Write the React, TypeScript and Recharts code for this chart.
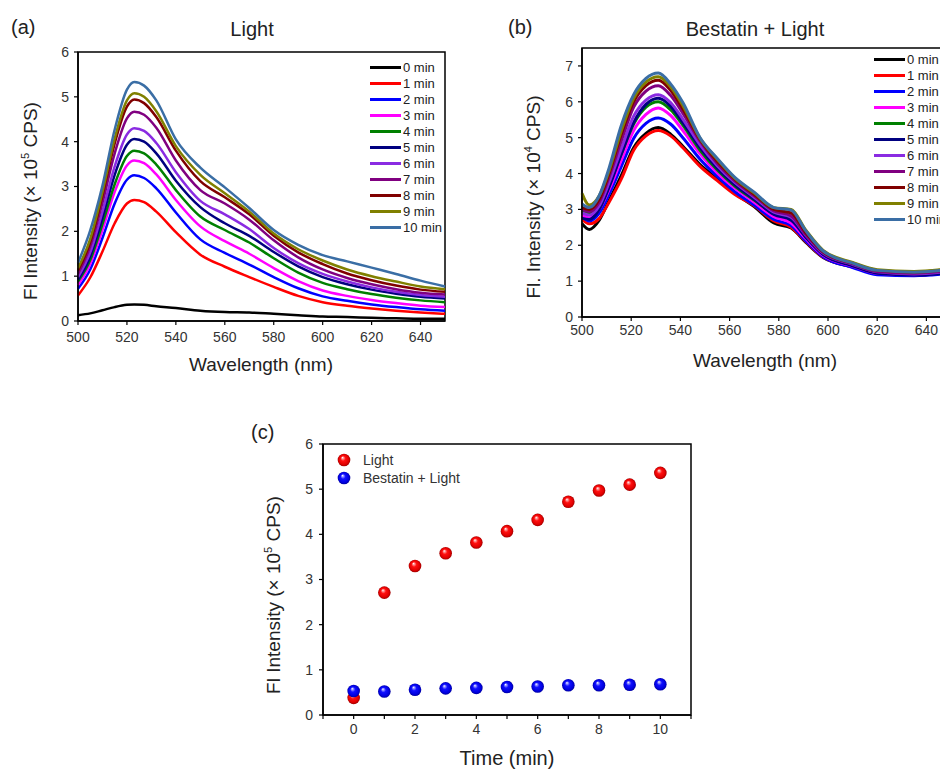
import { LineChart, Line, XAxis, YAxis, ReferenceArea, Legend, ScatterChart, Scatter } from 'recharts';

const FONT = '"Liberation Sans", Arial, sans-serif';

const seriesNames = ['0 min', '1 min', '2 min', '3 min', '4 min', '5 min', '6 min', '7 min', '8 min', '9 min', '10 min'];
const seriesColors = ['#000000', '#ff0000', '#0000ff', '#ff00ff', '#008000', '#000080', '#8a2be2', '#800080', '#800000', '#808000', '#3a6ea5'];

// (a) Light, x 10^5 CPS
const wavelengthsA = [500, 505, 510, 515, 520, 523, 527, 532, 540, 550, 560, 570, 580, 590, 600, 610, 620, 630, 640, 650];
const light0 = [0.13, 0.17, 0.24, 0.31, 0.36, 0.37, 0.36, 0.33, 0.29, 0.23, 0.2, 0.19, 0.16, 0.13, 0.1, 0.09, 0.07, 0.06, 0.05, 0.05];
const light1 = [0.57, 0.97, 1.55, 2.18, 2.62, 2.7, 2.65, 2.44, 1.98, 1.48, 1.21, 0.98, 0.76, 0.56, 0.42, 0.34, 0.28, 0.23, 0.19, 0.16];
const light2 = [0.72, 1.15, 1.85, 2.62, 3.15, 3.25, 3.19, 2.96, 2.42, 1.82, 1.52, 1.26, 0.98, 0.73, 0.55, 0.45, 0.37, 0.31, 0.26, 0.23];
const light3 = [0.8, 1.27, 2.03, 2.88, 3.47, 3.58, 3.52, 3.27, 2.7, 2.11, 1.78, 1.5, 1.18, 0.89, 0.68, 0.56, 0.47, 0.4, 0.34, 0.31];
const light4 = [0.88, 1.36, 2.16, 3.05, 3.68, 3.8, 3.74, 3.49, 2.92, 2.33, 2.03, 1.75, 1.4, 1.08, 0.85, 0.71, 0.6, 0.52, 0.46, 0.42];
const light5 = [0.92, 1.44, 2.3, 3.26, 3.93, 4.06, 4.0, 3.74, 3.13, 2.54, 2.18, 1.9, 1.54, 1.22, 0.98, 0.82, 0.7, 0.61, 0.54, 0.5];
const light6 = [0.98, 1.53, 2.44, 3.45, 4.16, 4.3, 4.24, 3.97, 3.32, 2.68, 2.38, 2.05, 1.63, 1.29, 1.05, 0.88, 0.75, 0.65, 0.58, 0.54];
const light7 = [1.05, 1.66, 2.64, 3.74, 4.52, 4.67, 4.6, 4.31, 3.58, 2.92, 2.62, 2.26, 1.8, 1.42, 1.15, 0.96, 0.82, 0.71, 0.63, 0.59];
const light8 = [1.12, 1.76, 2.8, 3.96, 4.78, 4.94, 4.86, 4.55, 3.8, 3.12, 2.76, 2.38, 1.9, 1.53, 1.27, 1.06, 0.91, 0.79, 0.7, 0.65];
const light9 = [1.18, 1.83, 2.88, 4.07, 4.92, 5.08, 5.0, 4.68, 3.9, 3.26, 2.85, 2.44, 1.95, 1.6, 1.35, 1.15, 1.0, 0.88, 0.77, 0.71];
const light10 = [1.3, 2.02, 3.02, 4.27, 5.16, 5.33, 5.25, 4.92, 4.05, 3.42, 2.98, 2.52, 2.03, 1.7, 1.47, 1.33, 1.19, 1.05, 0.9, 0.77];
const lightSeries = [light0, light1, light2, light3, light4, light5, light6, light7, light8, light9, light10];

// (b) Bestatin + Light, x 10^4 CPS
const wavelengthsB = [500, 503, 507, 511, 516, 521, 526, 531, 536, 541, 548, 555, 562, 570, 578, 585, 591, 598, 610, 620, 635, 650];
const best0 = [2.6, 2.44, 2.7, 3.25, 3.95, 4.72, 5.12, 5.28, 5.1, 4.76, 4.25, 3.85, 3.45, 3.08, 2.62, 2.48, 2.08, 1.66, 1.4, 1.22, 1.16, 1.25];
const best1 = [2.72, 2.6, 2.75, 3.2, 3.85, 4.65, 5.05, 5.2, 5.05, 4.72, 4.2, 3.8, 3.42, 3.1, 2.68, 2.5, 2.1, 1.67, 1.4, 1.22, 1.17, 1.26];
const best2 = [2.8, 2.68, 2.9, 3.42, 4.2, 4.98, 5.4, 5.55, 5.38, 5.0, 4.4, 3.92, 3.5, 3.12, 2.72, 2.55, 2.12, 1.68, 1.38, 1.18, 1.15, 1.22];
const best3 = [2.85, 2.76, 3.0, 3.55, 4.38, 5.2, 5.65, 5.83, 5.62, 5.2, 4.55, 4.02, 3.6, 3.2, 2.8, 2.62, 2.18, 1.72, 1.42, 1.22, 1.18, 1.26];
const best4 = [2.95, 2.88, 3.12, 3.68, 4.55, 5.38, 5.85, 6.0, 5.78, 5.35, 4.65, 4.1, 3.66, 3.26, 2.88, 2.75, 2.25, 1.76, 1.45, 1.25, 1.2, 1.28];
const best5 = [2.75, 2.72, 3.0, 3.62, 4.55, 5.42, 5.93, 6.1, 5.88, 5.42, 4.72, 4.15, 3.7, 3.28, 2.86, 2.7, 2.22, 1.74, 1.43, 1.22, 1.17, 1.25];
const best6 = [2.9, 2.84, 3.1, 3.75, 4.7, 5.6, 6.05, 6.2, 5.98, 5.52, 4.8, 4.22, 3.76, 3.34, 2.92, 2.78, 2.28, 1.78, 1.47, 1.26, 1.2, 1.28];
const best7 = [3.0, 2.94, 3.2, 3.9, 4.92, 5.85, 6.3, 6.45, 6.18, 5.68, 4.9, 4.28, 3.8, 3.38, 2.96, 2.82, 2.3, 1.8, 1.48, 1.27, 1.22, 1.3];
const best8 = [3.05, 3.0, 3.28, 4.0, 5.1, 6.0, 6.45, 6.6, 6.32, 5.8, 4.95, 4.34, 3.85, 3.42, 3.0, 2.9, 2.35, 1.82, 1.5, 1.3, 1.25, 1.34];
const best9 = [3.45, 3.12, 3.38, 4.08, 5.2, 6.1, 6.55, 6.7, 6.42, 5.9, 4.98, 4.4, 3.88, 3.46, 3.05, 3.0, 2.42, 1.86, 1.52, 1.32, 1.27, 1.35];
const best10 = [3.15, 3.05, 3.38, 4.15, 5.35, 6.2, 6.65, 6.8, 6.5, 5.98, 5.0, 4.42, 3.9, 3.48, 3.05, 2.98, 2.4, 1.84, 1.5, 1.3, 1.25, 1.33];
const bestSeries = [best0, best1, best2, best3, best4, best5, best6, best7, best8, best9, best10];

// (c) time course, x 10^5 CPS
const times = [0, 1, 2, 3, 4, 5, 6, 7, 8, 9, 10];
const lightPeak = [0.38, 2.71, 3.3, 3.58, 3.82, 4.07, 4.32, 4.72, 4.97, 5.1, 5.36];
const bestatinPeak = [0.53, 0.52, 0.56, 0.59, 0.6, 0.62, 0.63, 0.66, 0.66, 0.67, 0.68];
const groupNames = ['Light', 'Bestatin + Light'];

const ticksWave = [500, 520, 540, 560, 580, 600, 620, 640];
const ticksA = [0, 1, 2, 3, 4, 5, 6];
const ticksB = [0, 1, 2, 3, 4, 5, 6, 7];
const ticksTime = [-1, 0, 1, 2, 3, 4, 5, 6, 7, 8, 9, 10, 11];
const labeledTimes = [0, 2, 4, 6, 8, 10];

const buildRows = (ws: number[], series: number[][]) =>
  ws.map((w, i) => {
    const row: any = { w };
    series.forEach((s, k) => (row['s' + k] = s[i]));
    return row;
  });

const dataA = buildRows(wavelengthsA, lightSeries);
const dataB = buildRows(wavelengthsB, bestSeries);
const lightPoints = times.map((t, i) => ({ t, v: lightPeak[i] }));
const bestatinPoints = times.map((t, i) => ({ t, v: bestatinPeak[i] }));

const tickStyle = { fill: '#333', fontSize: 14, fontFamily: FONT };
const axisLine = { stroke: '#000', strokeWidth: 1.5 };
const tickLine = { stroke: '#000', strokeWidth: 1.2 };

const LineLegend = ({ payload }: any) => {
  const items = [...(payload || [])].sort(
    (p: any, q: any) => seriesNames.indexOf(p.value) - seriesNames.indexOf(q.value)
  );
  return (
    <div style={{ fontFamily: FONT, fontSize: 13, color: '#222' }}>
      {items.map((it: any) => (
        <div key={it.value} style={{ display: 'flex', alignItems: 'center', height: 16, whiteSpace: 'nowrap' }}>
          <span style={{ display: 'inline-block', width: 31, height: 3, background: it.color, marginRight: 2 }} />
          <span>{it.value}</span>
        </div>
      ))}
    </div>
  );
};

const ballId = (c: string) => (c === '#ff0000' ? 'ballRed' : 'ballBlue');

const BallLegend = ({ payload }: any) => {
  const items = [...(payload || [])].sort(
    (p: any, q: any) => groupNames.indexOf(p.value) - groupNames.indexOf(q.value)
  );
  return (
    <div style={{ fontFamily: FONT, fontSize: 14, color: '#333' }}>
      {items.map((it: any) => (
        <div key={it.value} style={{ display: 'flex', alignItems: 'center', height: 17.7, whiteSpace: 'nowrap' }}>
          <svg width={14} height={14} style={{ marginRight: 12 }}>
            <circle cx={7} cy={7} r={6.3} fill={`url(#${ballId(it.color)})`} />
          </svg>
          <span>{it.value}</span>
        </div>
      ))}
    </div>
  );
};

const RedBall = (p: any) => <circle cx={p.cx} cy={p.cy} r={6.3} fill="url(#ballRed)" />;
const BlueBall = (p: any) => <circle cx={p.cx} cy={p.cy} r={6.3} fill="url(#ballBlue)" />;

const timeLabel = (v: number) => (labeledTimes.includes(v) ? String(v) : '');

export default function App() {
  return (
    <div
      style={{
        position: 'absolute', left: 0, top: 0, width: 940, height: 769,
        overflow: 'hidden', background: '#fff', fontFamily: FONT,
      }}
    >
      <svg width={0} height={0} style={{ position: 'absolute' }}>
        <defs>
          <radialGradient id="ballRed" cx="0.5" cy="0.5" r="0.5" fx="0.38" fy="0.3">
            <stop offset="0" stopColor="#ffffff" />
            <stop offset="0.15" stopColor="#ff9a9a" />
            <stop offset="0.4" stopColor="#ff1010" />
            <stop offset="0.8" stopColor="#e00000" />
            <stop offset="1" stopColor="#a00000" />
          </radialGradient>
          <radialGradient id="ballBlue" cx="0.5" cy="0.5" r="0.5" fx="0.38" fy="0.3">
            <stop offset="0" stopColor="#ffffff" />
            <stop offset="0.15" stopColor="#9a9aff" />
            <stop offset="0.4" stopColor="#1010ff" />
            <stop offset="0.8" stopColor="#0000e0" />
            <stop offset="1" stopColor="#0000a0" />
          </radialGradient>
        </defs>
      </svg>

      {/* (a) */}
      <div style={{ position: 'absolute', left: 0, top: 0 }}>
        <LineChart width={460} height={400} data={dataA} margin={{ top: 52, right: 15, bottom: 49, left: 0 }}>
          <XAxis type="number" dataKey="w" domain={[500, 650]} ticks={ticksWave} height={30}
            tick={tickStyle} axisLine={axisLine} tickLine={tickLine} tickSize={4} tickMargin={7} />
          <YAxis type="number" domain={[0, 6]} ticks={ticksA} width={78}
            tick={tickStyle} axisLine={axisLine} tickLine={tickLine} tickSize={4} tickMargin={5} />
          <ReferenceArea x1={500} x2={650} y1={0} y2={6} fill="none" stroke="#000" strokeWidth={1.5} />
          {seriesNames.map((n, k) => (
            <Line key={n} type="monotone" dataKey={'s' + k} name={n} stroke={seriesColors[k]}
              strokeWidth={2.5} dot={false} isAnimationActive={false} />
          ))}
          <Legend layout="vertical" align="center" verticalAlign="middle" content={LineLegend}
            wrapperStyle={{ position: 'absolute', left: 370, top: 59, width: 'auto', height: 'auto' }} />
        </LineChart>
      </div>

      {/* (b) */}
      <div style={{ position: 'absolute', left: 480, top: 0 }}>
        <LineChart width={480} height={400} data={dataB} margin={{ top: 48, right: 9, bottom: 53, left: 0 }}>
          <XAxis type="number" dataKey="w" domain={[500, 650]} ticks={ticksWave} height={30}
            tick={tickStyle} axisLine={axisLine} tickLine={tickLine} tickSize={4} tickMargin={4} />
          <YAxis type="number" domain={[0, 7.5]} ticks={ticksB} width={102}
            tick={tickStyle} axisLine={axisLine} tickLine={tickLine} tickSize={4} tickMargin={5} />
          <ReferenceArea x1={500} x2={650} y1={0} y2={7.5} fill="none" stroke="#000" strokeWidth={1.5} />
          {seriesNames.map((n, k) => (
            <Line key={n} type="monotone" dataKey={'s' + k} name={n} stroke={seriesColors[k]}
              strokeWidth={3} dot={false} isAnimationActive={false} />
          ))}
          <Legend layout="vertical" align="center" verticalAlign="middle" content={LineLegend}
            wrapperStyle={{ position: 'absolute', left: 394, top: 51, width: 'auto', height: 'auto' }} />
        </LineChart>
      </div>

      {/* (c) */}
      <div style={{ position: 'absolute', left: 240, top: 420 }}>
        <ScatterChart width={470} height={349} margin={{ top: 24, right: 19, bottom: 24, left: 0 }}>
          <XAxis type="number" dataKey="t" domain={[-1, 11]} ticks={ticksTime} tickFormatter={timeLabel} height={30}
            tick={tickStyle} axisLine={axisLine} tickLine={tickLine} tickSize={4} tickMargin={5} />
          <YAxis type="number" dataKey="v" domain={[0, 6]} ticks={ticksA} width={83}
            tick={tickStyle} axisLine={axisLine} tickLine={tickLine} tickSize={4} tickMargin={6} />
          <ReferenceArea x1={-1} x2={11} y1={0} y2={6} fill="none" stroke="#000" strokeWidth={1.5} />
          <Scatter name={groupNames[0]} data={lightPoints} fill="#ff0000" shape={RedBall} isAnimationActive={false} />
          <Scatter name={groupNames[1]} data={bestatinPoints} fill="#0000ff" shape={BlueBall} isAnimationActive={false} />
          <Legend layout="vertical" align="center" verticalAlign="middle" content={BallLegend}
            wrapperStyle={{ position: 'absolute', left: 97, top: 31, width: 'auto', height: 'auto' }} />
        </ScatterChart>
      </div>

      {/* titles and axis labels */}
      <svg width={940} height={769} style={{ position: 'absolute', left: 0, top: 0, pointerEvents: 'none' }}
        fontFamily={FONT} fill="#222">
        <text x={11} y={34} fontSize={20}>(a)</text>
        <text x={252} y={36} fontSize={20} textAnchor="middle">Light</text>
        <text x={261} y={371} fontSize={19} textAnchor="middle">Wavelength (nm)</text>
        <text x={37} y={201} fontSize={19} textAnchor="middle" transform="rotate(-90 37 201)">
          Fl Intensity (× 10<tspan dy={-8} fontSize={11}>5</tspan><tspan dy={8}> CPS)</tspan>
        </text>

        <text x={508} y={34} fontSize={20}>(b)</text>
        <text x={755} y={36} fontSize={20} textAnchor="middle">Bestatin + Light</text>
        <text x={765} y={367} fontSize={19} textAnchor="middle">Wavelength (nm)</text>
        <text x={540} y={197} fontSize={19} textAnchor="middle" transform="rotate(-90 540 197)">
          Fl. Intensity (× 10<tspan dy={-8} fontSize={11}>4</tspan><tspan dy={8}> CPS)</tspan>
        </text>

        <text x={251} y={439} fontSize={20}>(c)</text>
        <text x={507} y={765} fontSize={20} textAnchor="middle">Time (min)</text>
        <text x={280} y={595} fontSize={19} textAnchor="middle" transform="rotate(-90 280 595)">
          Fl Intensity (× 10<tspan dy={-8} fontSize={11}>5</tspan><tspan dy={8}> CPS)</tspan>
        </text>
      </svg>
    </div>
  );
}
